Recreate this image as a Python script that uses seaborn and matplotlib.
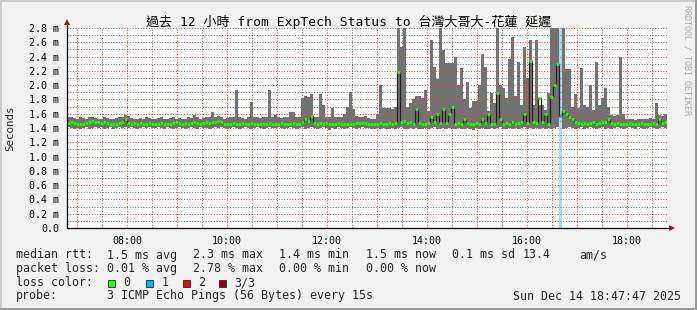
import matplotlib
matplotlib.use("Agg")
import matplotlib.pyplot as plt
import seaborn as sns
import numpy as np
import pandas as pd
from matplotlib.patches import Rectangle

# ---------------- data ----------------
title = "過去 12 小時 from ExpTech Status to 台灣大哥大-花蓮 延遲"
start_hour = 6 + 47 / 60 + 47 / 3600      # 06:47:47
bin_hours = 0.06                          # 3.6 minutes per bin
n_bins = 200

smoke_top = [
    1.55, 1.56, 1.54, 1.53, 1.55, 1.54, 1.52, 1.55, 1.56, 1.54,
    1.53, 1.52, 1.55, 1.54, 1.53, 1.52, 1.54, 1.55, 1.56, 1.58,
    1.57, 1.54, 1.53, 1.52, 1.54, 1.53, 1.55, 1.54, 1.52, 1.53,
    1.54, 1.55, 1.53, 1.52, 1.54, 1.55, 1.53, 1.54, 1.52, 1.53,
    1.55, 1.54, 1.58, 1.55, 1.53, 1.54, 1.56, 1.55, 1.62, 1.56,
    1.57, 1.55, 1.53, 1.54, 1.55, 1.56, 1.93, 1.55, 1.54, 1.53,
    1.55, 1.77, 1.56, 1.55, 1.54, 1.56, 1.55, 1.93, 1.56, 1.58,
    1.55, 1.54, 1.56, 1.55, 1.62, 1.63, 1.55, 1.56, 1.82, 1.85,
    1.84, 1.87, 1.56, 1.55, 1.87, 1.72, 1.56, 1.55, 1.68, 1.56,
    1.55, 1.56, 1.59, 1.69, 1.91, 1.66, 1.57, 1.56, 1.55, 1.57,
    1.54, 1.53, 1.52, 1.60, 2.00, 1.68, 1.68, 1.68, 1.67, 1.70,
    2.80, 2.54, 2.80, 1.69, 1.75, 1.80, 1.85, 1.85, 1.82, 1.93,
    1.64, 2.63, 2.26, 2.08, 2.80, 2.49, 2.31, 2.31, 2.31, 2.40,
    2.00, 2.24, 1.81, 2.05, 1.68, 1.78, 1.78, 2.00, 2.43, 2.26,
    1.64, 1.89, 1.75, 2.80, 2.00, 1.96, 1.82, 2.36, 2.68, 1.85,
    2.33, 1.72, 2.54, 2.10, 2.63, 1.72, 2.63, 1.72, 1.72, 1.65,
    1.89, 2.80, 2.80, 2.80, 2.80, 2.80, 2.22, 2.22, 1.69, 1.87,
    1.68, 2.24, 1.72, 1.70, 2.00, 1.65, 2.33, 1.72, 1.82, 1.96,
    1.69, 1.58, 1.57, 1.58, 2.40, 1.60, 1.53, 1.52, 1.53, 1.51,
    1.52, 1.53, 1.52, 1.53, 1.54, 1.53, 1.75, 1.58, 1.57, 1.60,
]

smoke_bottom = [
    1.41, 1.40, 1.39, 1.40, 1.38, 1.40, 1.41, 1.39, 1.40, 1.41,
    1.40, 1.41, 1.39, 1.40, 1.41, 1.38, 1.40, 1.41, 1.40, 1.41,
    1.40, 1.41, 1.40, 1.39, 1.40, 1.41, 1.40, 1.41, 1.40, 1.40,
    1.41, 1.40, 1.39, 1.41, 1.40, 1.39, 1.40, 1.41, 1.40, 1.39,
    1.40, 1.41, 1.40, 1.39, 1.41, 1.40, 1.40, 1.39, 1.40, 1.41,
    1.40, 1.41, 1.40, 1.39, 1.40, 1.41, 1.40, 1.38, 1.40, 1.41,
    1.40, 1.39, 1.40, 1.41, 1.40, 1.39, 1.40, 1.41, 1.40, 1.40,
    1.41, 1.40, 1.39, 1.40, 1.41, 1.40, 1.39, 1.40, 1.41, 1.39,
    1.40, 1.41, 1.40, 1.39, 1.40, 1.41, 1.40, 1.37, 1.40, 1.39,
    1.41, 1.40, 1.39, 1.40, 1.41, 1.40, 1.39, 1.40, 1.41, 1.40,
    1.40, 1.39, 1.38, 1.40, 1.39, 1.40, 1.38, 1.39, 1.40, 1.39,
    1.40, 1.41, 1.39, 1.38, 1.40, 1.39, 1.40, 1.38, 1.39, 1.40,
    1.39, 1.40, 1.41, 1.39, 1.38, 1.40, 1.39, 1.40, 1.39, 1.38,
    1.40, 1.39, 1.38, 1.40, 1.39, 1.37, 1.40, 1.39, 1.40, 1.39,
    1.38, 1.40, 1.39, 1.40, 1.41, 1.39, 1.38, 1.40, 1.39, 1.40,
    1.39, 1.40, 1.41, 1.39, 1.40, 1.38, 1.40, 1.39, 1.40, 1.38,
    1.40, 1.39, 1.40, 1.41, 1.40, 1.39, 1.40, 1.41, 1.40, 1.39,
    1.40, 1.41, 1.39, 1.40, 1.41, 1.40, 1.38, 1.40, 1.41, 1.39,
    1.40, 1.39, 1.40, 1.41, 1.40, 1.39, 1.40, 1.41, 1.40, 1.39,
    1.41, 1.40, 1.39, 1.40, 1.41, 1.40, 1.39, 1.40, 1.41, 1.40,
]

median_rtt = [
    1.47, 1.48, 1.47, 1.46, 1.45, 1.46, 1.47, 1.48, 1.50, 1.49,
    1.48, 1.47, 1.48, 1.47, 1.46, 1.45, 1.46, 1.47, 1.48, 1.52,
    1.47, 1.46, 1.47, 1.46, 1.47, 1.46, 1.46, 1.47, 1.46, 1.45,
    1.46, 1.47, 1.46, 1.45, 1.46, 1.47, 1.48, 1.47, 1.46, 1.47,
    1.46, 1.47, 1.49, 1.47, 1.46, 1.47, 1.48, 1.47, 1.49, 1.48,
    1.50, 1.48, 1.46, 1.45, 1.46, 1.47, 1.46, 1.45, 1.47, 1.46,
    1.46, 1.47, 1.46, 1.45, 1.46, 1.46, 1.45, 1.47, 1.46, 1.45,
    1.46, 1.47, 1.46, 1.45, 1.46, 1.47, 1.45, 1.46, 1.48, 1.52,
    1.50, 1.57, 1.47, 1.46, 1.47, 1.46, 1.47, 1.46, 1.45, 1.46,
    1.47, 1.46, 1.45, 1.46, 1.45, 1.46, 1.47, 1.47, 1.47, 1.47,
    1.46, 1.45, 1.46, 1.45, 1.47, 1.46, 1.45, 1.47, 1.46, 1.47,
    2.19, 1.48, 1.50, 1.47, 1.48, 1.46, 1.67, 1.47, 1.45, 1.46,
    1.47, 1.55, 1.48, 1.59, 1.47, 1.67, 1.47, 1.59, 1.69, 1.46,
    1.47, 1.46, 1.53, 1.47, 1.45, 1.46, 1.47, 1.46, 1.52, 1.47,
    1.59, 1.46, 1.45, 1.89, 1.52, 1.46, 1.47, 1.46, 1.49, 1.46,
    1.47, 1.48, 1.60, 1.47, 2.34, 1.48, 1.47, 1.82, 1.48, 1.59,
    1.46, 1.84, 2.00, 2.30, 1.57, 1.64, 1.60, 1.55, 1.52, 1.48,
    1.47, 1.46, 1.47, 1.46, 1.47, 1.48, 1.46, 1.47, 1.48, 1.49,
    1.52, 1.47, 1.46, 1.47, 1.46, 1.45, 1.46, 1.47, 1.46, 1.45,
    1.46, 1.47, 1.46, 1.45, 1.46, 1.47, 1.46, 1.52, 1.47, 1.48,
]

loss_bins = {164: 1}   # bin index -> lost pings (of 3)

loss_colors = ["#26ff00", "#00b8ff", "#ff0000", "#a00000"]
loss_column_color = "#a8dcf8"
loss_labels = ["0", "1", "2", "3/3"]

y_ticks = [0.0, 0.2, 0.4, 0.6, 0.8, 1.0, 1.2, 1.4, 1.6, 1.8, 2.0, 2.2, 2.4, 2.6, 2.8]
x_label_hours = [8, 10, 12, 14, 16, 18]

legend_rows = [
    ["median rtt:", "1.5 ms avg", "2.3 ms max", "1.4 ms min", "1.5 ms now", "0.1 ms sd", "13.4", "am/s"],
    ["packet loss:", "0.01 % avg", "2.78 % max", "0.00 % min", "0.00 % now"],
]
probe_text = "3 ICMP Echo Pings (56 Bytes) every 15s"
date_text = "Sun Dec 14 18:47:47 2025"

# ---------------- style ----------------
sns.set_theme(style="white")
MONO = ["DejaVu Sans Mono", "Noto Sans CJK TC"]
plt.rcParams["font.family"] = MONO
plt.rcParams["font.size"] = 8

W, H = 697, 310
fig = plt.figure(figsize=(W / 100, H / 100), dpi=100)
fig.patch.set_facecolor("#f2f2f2")

def fx(px):
    return px / W

def fy(py):
    return 1 - py / H

ax = fig.add_axes([fx(67), fy(228), 600 / W, 200 / H])
ax.set_facecolor("white")

starts = np.array([start_hour + i * bin_hours for i in range(n_bins)])
ends = starts + bin_hours
edges = np.append(starts, ends[-1])
top_ext = np.append(smoke_top, smoke_top[-1])
bot_ext = np.append(smoke_bottom, smoke_bottom[-1])
med_ext = np.append(median_rtt, median_rtt[-1])

# smoke
ax.fill_between(edges, bot_ext, top_ext, step="post", color="#727272", lw=0, zorder=1)

# loss columns
for b, n in loss_bins.items():
    ax.axvspan(starts[b], ends[b], color=loss_column_color, lw=0, zorder=1.5)

# median dark line
df = pd.DataFrame({"t": edges, "median": med_ext})
sns.lineplot(data=df, x="t", y="median", drawstyle="steps-post", color="#202020",
             lw=0.9, estimator=None, ax=ax, zorder=3, legend=False)

# median markers colored by loss
seg_colors = [loss_colors[loss_bins.get(i, 0)] for i in range(n_bins)]
ax.hlines(median_rtt, starts, ends, colors=seg_colors, lw=2.0, zorder=4, capstyle="butt")

ax.set_xlim(start_hour, start_hour + 12)
ax.set_ylim(0, 2.8)

# grid
major_x = list(range(7, 19))
minor_x = [h + 0.5 for h in range(6, 19) if start_hour < h + 0.5 < start_hour + 12]
ax.set_xticks(major_x)
ax.set_xticklabels([f"{h:02d}:00" if h in x_label_hours else "" for h in major_x])
ax.set_xticks(minor_x, minor=True)
ax.set_yticks(y_ticks)
ax.set_yticklabels(["0.0" if v == 0 else f"{v:.1f} m" for v in y_ticks])
ax.set_yticks([v + 0.1 for v in y_ticks[:-1]], minor=True)

ax.set_axisbelow(False)
red = (1.0, 0.25, 0.25, 0.45)
gray = (0.45, 0.45, 0.45, 0.45)
ax.grid(True, which="major", color=red, lw=0.75, ls=(0, (1, 1.6)))
ax.grid(True, which="minor", color=gray, lw=0.75, ls=(0, (1, 1.6)))
ax.tick_params(axis="both", which="major", length=2, width=0.75, color=(1, 0.3, 0.3, 0.6),
               labelsize=7.2, labelcolor="#000000", pad=3.5)
ax.tick_params(axis="both", which="minor", length=0)
for lab in ax.get_xticklabels() + ax.get_yticklabels():
    lab.set_family(MONO)
for s in ax.spines.values():
    s.set_visible(False)
ax.set_xlabel("")
ax.set_ylabel("")

# axes lines with arrows
ax.plot([0, 0], [0, 1.03], color="black", lw=0.9, transform=ax.transAxes, clip_on=False, zorder=6)
ax.plot([0, 1.008], [0, 0], color="black", lw=0.9, transform=ax.transAxes, clip_on=False, zorder=6)
ax.plot([0], [1.03], marker="^", ms=4, color="#a01010", mew=0, transform=ax.transAxes, clip_on=False, zorder=7)
ax.plot([1.008], [0], marker=">", ms=4, color="#a01010", mew=0, transform=ax.transAxes, clip_on=False, zorder=7)

# texts
fig.text(fx(348.5), fy(21.5), title, ha="center", va="center", size=9.35, family=MONO, color="black")
fig.text(fx(10), fy(128), "Seconds", rotation=90, ha="center", va="center", size=7.8, family=MONO)
fig.text(fx(687), fy(60), "RRDTOOL / TOBI OETIKER", rotation=270, ha="center", va="center",
         size=6, family=MONO, color="#aaaaaa")

col_x = [16, 107, 193, 279, 366, 452, 523, 579]
row_y = [255, 268.5, 282.5, 296]
LS = 8.4
for r, row in enumerate(legend_rows):
    for c, txt in enumerate(row):
        fig.text(fx(col_x[c]), fy(row_y[r]), txt, ha="left", va="center", size=LS, family=MONO)

fig.text(fx(16), fy(row_y[2]), "loss color:", ha="left", va="center", size=LS, family=MONO)
sq_x = [108, 146, 183, 219]
lab_x = [123, 162, 198, 234]
for k in range(4):
    fig.patches.append(Rectangle((fx(sq_x[k]), fy(286.5)), 7 / W, 7 / H, transform=fig.transFigure,
                                 facecolor=loss_colors[k], edgecolor="#333333", lw=0.7))
    fig.text(fx(lab_x[k]), fy(row_y[2]), loss_labels[k], ha="left", va="center", size=LS, family=MONO)

fig.text(fx(16), fy(row_y[3]), "probe:", ha="left", va="center", size=LS, family=MONO)
fig.text(fx(107), fy(row_y[3]), probe_text, ha="left", va="center", size=LS, family=MONO)
fig.text(fx(681), fy(row_y[3]), date_text, ha="right", va="center", size=LS, family=MONO)

# 3D frame
fig.patches.append(Rectangle((0, 1 - 2 / H), 1, 2 / H, transform=fig.transFigure, color="#cbcbcb", lw=0))
fig.patches.append(Rectangle((0, 0), 2 / W, 1, transform=fig.transFigure, color="#cbcbcb", lw=0))
fig.patches.append(Rectangle((0, 0), 1, 2 / H, transform=fig.transFigure, color="#999999", lw=0))
fig.patches.append(Rectangle((1 - 2 / W, 0), 2 / W, 1, transform=fig.transFigure, color="#999999", lw=0))

fig.savefig("out.png", dpi=100, facecolor=fig.get_facecolor())
